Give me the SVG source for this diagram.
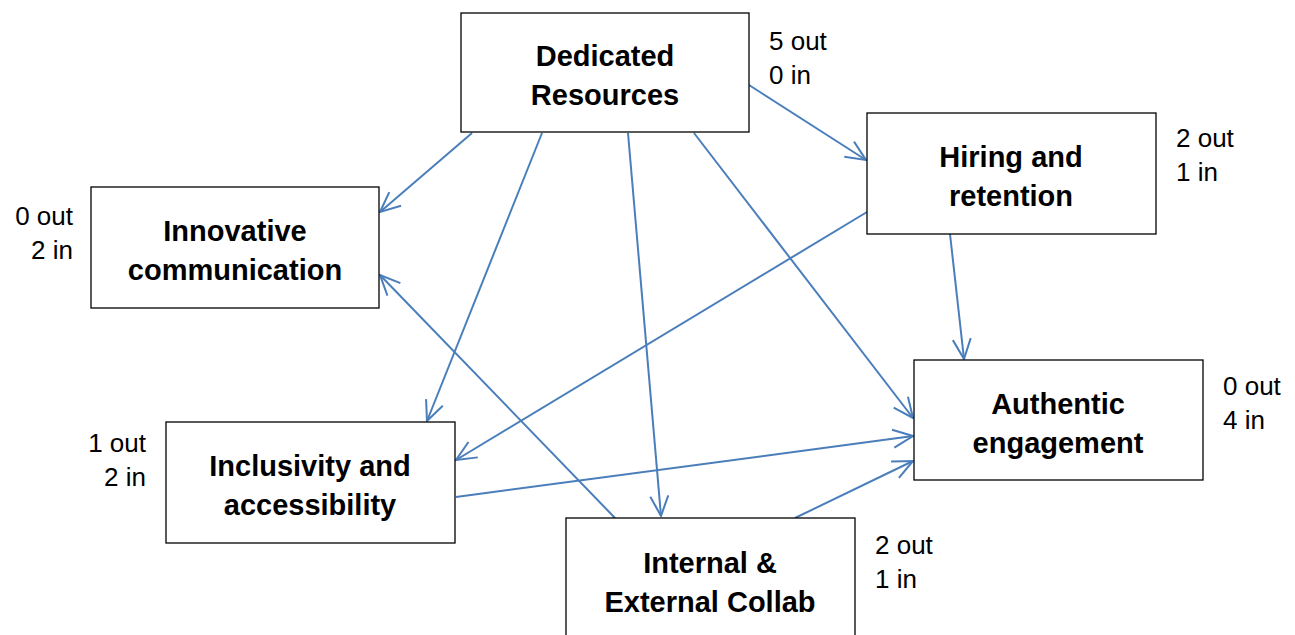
<svg xmlns="http://www.w3.org/2000/svg" width="1295" height="635" viewBox="0 0 1295 635">
<style>
.box{fill:#fff;stroke:#000;stroke-width:1.3}
.t{font-family:"Liberation Sans",Arial,sans-serif;font-weight:bold;font-size:29px;text-anchor:middle;fill:#000}
.l{font-family:"Liberation Sans",Arial,sans-serif;font-size:26px;fill:#000}
.r{text-anchor:end}
.c{stroke:#4a7ebb;stroke-width:2;fill:none;marker-end:url(#a)}
</style>
<defs>
<marker id="a" viewBox="0 0 22 22" refX="21" refY="11" markerWidth="22" markerHeight="22" markerUnits="userSpaceOnUse" orient="auto">
<path d="M1,2 L21,11 L1,20" fill="none" stroke="#4a7ebb" stroke-width="2"/>
</marker>
</defs>
<rect width="1295" height="635" fill="#fff"/>
<g id="connectors">
<line class="c" x1="472" y1="133" x2="380" y2="212"/>
<line class="c" x1="542" y1="133" x2="427" y2="421"/>
<line class="c" x1="628" y1="133" x2="661" y2="516"/>
<line class="c" x1="694" y1="133" x2="913" y2="418"/>
<line class="c" x1="749" y1="85" x2="866" y2="160"/>
<line class="c" x1="867" y1="212" x2="456" y2="460"/>
<line class="c" x1="950" y1="234" x2="964" y2="359"/>
<line class="c" x1="456" y1="497" x2="913" y2="436"/>
<line class="c" x1="615" y1="518" x2="380" y2="275"/>
<line class="c" x1="795" y1="518" x2="913" y2="461"/>
</g>
<g id="dedicated">
<rect class="box" x="461" y="13" width="288" height="119"/>
<text class="t" x="605" y="66">Dedicated</text>
<text class="t" x="605" y="105">Resources</text>
<text class="l" x="769" y="50">5 out</text>
<text class="l" x="769" y="84">0 in</text>
</g>
<g id="hiring">
<rect class="box" x="867" y="113" width="289" height="121"/>
<text class="t" x="1011" y="167">Hiring and</text>
<text class="t" x="1011" y="206">retention</text>
<text class="l" x="1176" y="147">2 out</text>
<text class="l" x="1176" y="181">1 in</text>
</g>
<g id="innovative">
<rect class="box" x="91" y="187" width="288" height="121"/>
<text class="t" x="235" y="241">Innovative</text>
<text class="t" x="235" y="280">communication</text>
<text class="l r" x="73" y="225">0 out</text>
<text class="l r" x="73" y="259">2 in</text>
</g>
<g id="authentic">
<rect class="box" x="914" y="360" width="289" height="120"/>
<text class="t" x="1058" y="414">Authentic</text>
<text class="t" x="1058" y="453">engagement</text>
<text class="l" x="1223" y="395">0 out</text>
<text class="l" x="1223" y="429">4 in</text>
</g>
<g id="inclusivity">
<rect class="box" x="166" y="422" width="289" height="121"/>
<text class="t" x="310" y="476">Inclusivity and</text>
<text class="t" x="310" y="515">accessibility</text>
<text class="l r" x="146" y="452">1 out</text>
<text class="l r" x="146" y="486">2 in</text>
</g>
<g id="internal">
<rect class="box" x="566" y="518" width="289" height="122"/>
<text class="t" x="710" y="573">Internal &amp;</text>
<text class="t" x="710" y="612">External Collab</text>
<text class="l" x="875" y="554">2 out</text>
<text class="l" x="875" y="588">1 in</text>
</g>
</svg>
